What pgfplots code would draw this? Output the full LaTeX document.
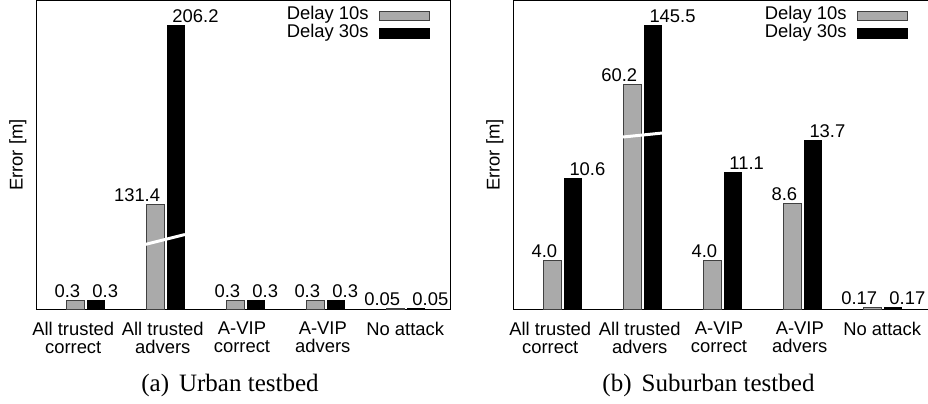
\documentclass[border=0pt]{standalone}
\usepackage{pgfplots}
\pgfplotsset{compat=1.18}
\usepackage{fontspec}
\setmainfont{Liberation Sans}
\newfontfamily\capfont{Liberation Serif}
\definecolor{barg}{HTML}{AAAAAA}

\pgfplotsset{
 myaxis/.style={
  scale only axis, height=154.5pt,
  ymin=0, xmin=-0.625,
  ytick=\empty, xtick={-0.16,0.96,1.95,2.96,3.99},
  xticklabels={{All trusted\\correct},{All trusted\\advers},{A-VIP\\correct},{A-VIP\\advers},{No attack}},
  xticklabel style={align=center, font=\fontsize{9.2}{9}\selectfont, inner sep=0pt, anchor=north, yshift=-6pt},
  major tick length=0pt,
  axis line style={line width=0.5pt},
  ybar, bar shift=0pt, bar width=0.22,
  ylabel={Error [m]},
  ylabel style={at={(axis description cs:-0.0434,0.5)}, anchor=center, font=\fontsize{9.2}{9}\selectfont},
  legend plot pos=right,
  legend style={at={(1,1)}, anchor=north east, xshift=-10.5pt, yshift=-3pt, draw=none, fill=none, inner sep=0pt, row sep=0pt,
    font=\fontsize{9.2}{9}\selectfont, nodes={inner sep=0pt, text height=6.5pt, text depth=2.5pt}},
  legend cell align=right,
 },
 gbar/.style={fill=barg, draw=black!75, line width=0.5pt, nodes near coords, point meta=explicit symbolic,
   every node near coord/.style={anchor=base east, inner sep=0pt, xshift=2.5pt, yshift=1.5pt, font=\fontsize{9.2}{9}\selectfont, black},
   legend image code/.code={\path (0pt,0pt); \draw[fill=barg, draw=black!75, line width=0.5pt] (5pt,-2.25pt) rectangle (30pt,2.25pt);}},
 kbar/.style={fill=black, draw=black, line width=0.5pt, nodes near coords, point meta=explicit symbolic,
   every node near coord/.style={anchor=base west, inner sep=0pt, xshift=-2pt, yshift=1.5pt, font=\fontsize{9.2}{9}\selectfont, black},
   legend image code/.code={\path (0pt,0pt); \draw[fill=black, draw=black, line width=0.5pt] (5pt,-2.5pt) rectangle (30pt,2.5pt);}},
}

\begin{document}
\begin{tikzpicture}
\useasboundingbox (0,0) rectangle (464pt,-201.5pt);

\begin{axis}[myaxis, width=207.5pt, xmax=4.5625, ymax=10.3, at={(18pt,-0.25pt)}, anchor=north west]
\addplot[gbar] coordinates {(-0.13,0.3)[0.3] (0.87,3.5)[131.4] (1.87,0.3)[0.3] (2.87,0.3)[0.3] (3.87,0.05)[0.05]};
\addplot[kbar] coordinates {(0.125,0.3)[0.3] (1.125,9.467)[206.2] (2.125,0.3)[0.3] (3.125,0.3)[0.3] (4.125,0.05)[0.05]};
\legend{Delay 10s, Delay 30s}
\draw[white, line width=1.5pt] (axis cs:0.7375,2.167) -- (axis cs:1.2375,2.5);
\end{axis}

\begin{axis}[myaxis, width=208pt, xmax=4.575, ymax=25.06, at={(256.5pt,-0.25pt)}, anchor=north west]
\addplot[gbar] coordinates {(-0.13,4.0)[4.0] (0.87,18.22)[60.2] (1.87,4.0)[4.0] (2.87,8.6)[8.6] (3.87,0.17)[0.17]};
\addplot[kbar] coordinates {(0.125,10.6)[10.6] (1.125,23.03)[145.5] (2.125,11.1)[11.1] (3.125,13.7)[13.7] (4.125,0.17)[0.17]};
\legend{Delay 10s, Delay 30s}
\draw[white, line width=1.5pt] (axis cs:0.75,13.99) -- (axis cs:1.2375,14.31);
\end{axis}

\node[anchor=base, font=\capfont\fontsize{12.5}{15}\selectfont] at (115pt,-195.5pt) {(a)\hspace{0.4em}Urban testbed};
\node[anchor=base, font=\capfont\fontsize{12.5}{15}\selectfont] at (354.25pt,-195.5pt) {(b)\hspace{0.4em}Suburban testbed};
\end{tikzpicture}
\end{document}
